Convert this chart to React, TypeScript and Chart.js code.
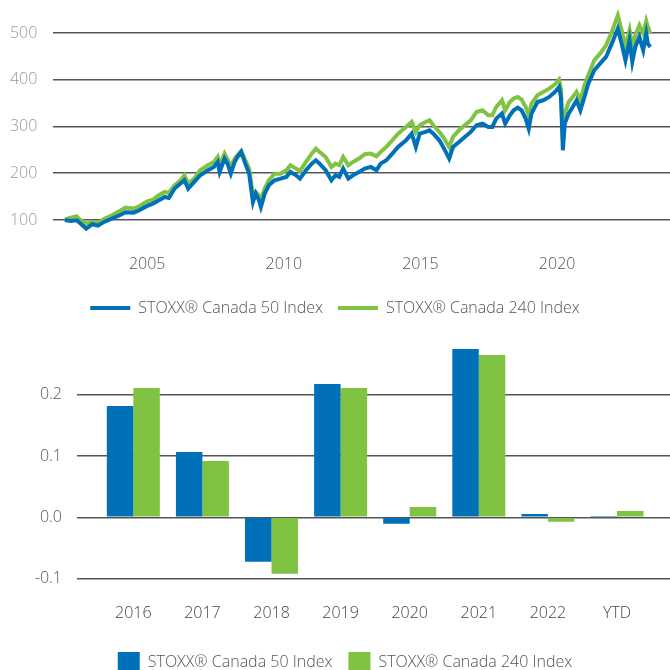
import React, { useEffect, useRef } from 'react';
import { Chart, registerables } from 'chart.js';

Chart.register(...registerables);

const seriesNames = ['STOXX® Canada 50 Index', 'STOXX® Canada 240 Index'];

// Top chart: index levels (decimal year -> value)
const lineDates = [
  2001.99, 2002.2, 2002.42, 2002.56, 2002.77, 2002.99, 2003.2, 2003.42, 2003.71, 2003.99,
  2004.21, 2004.5, 2004.71, 2005.0, 2005.21, 2005.43, 2005.64, 2005.79, 2006.0, 2006.22,
  2006.36, 2006.5, 2006.72, 2006.94, 2007.22, 2007.44, 2007.58, 2007.65, 2007.83, 2007.94,
  2008.06, 2008.2, 2008.3, 2008.44, 2008.59, 2008.73, 2008.87, 2008.97, 2009.09, 2009.16,
  2009.3, 2009.45, 2009.66, 2009.88, 2010.09, 2010.24, 2010.45, 2010.59, 2010.81, 2011.02,
  2011.17, 2011.31, 2011.53, 2011.74, 2011.89, 2012.03, 2012.17, 2012.36, 2012.53, 2012.75,
  2012.96, 2013.18, 2013.39, 2013.54, 2013.75, 2013.97, 2014.18, 2014.47, 2014.68, 2014.83,
  2014.97, 2015.19, 2015.33, 2015.47, 2015.69, 2015.83, 2016.05, 2016.19, 2016.41, 2016.62,
  2016.84, 2017.05, 2017.27, 2017.48, 2017.63, 2017.77, 2017.98, 2018.1, 2018.27, 2018.41,
  2018.56, 2018.7, 2018.85, 2018.96, 2019.06, 2019.28, 2019.49, 2019.71, 2019.92, 2020.07,
  2020.14, 2020.21, 2020.28, 2020.42, 2020.57, 2020.71, 2020.85, 2021.0, 2021.14, 2021.36,
  2021.57, 2021.79, 2022.0, 2022.22, 2022.36, 2022.5, 2022.65, 2022.75, 2022.86, 2023.01,
  2023.15, 2023.26, 2023.32, 2023.41,
];
const canada50Levels = [
  100.0, 97.9, 99.3, 92.2, 81.5, 90.8, 87.9, 95.8, 102.9, 110.0,
  116.4, 115.7, 120.7, 130.0, 135.0, 142.1, 149.2, 147.1, 167.1, 177.8,
  184.9, 167.1, 181.3, 195.6, 206.3, 213.4, 224.1, 202.7, 231.2, 220.5,
  199.1, 224.1, 234.8, 245.5, 220.5, 199.1, 138.5, 156.4, 142.1, 127.8,
  156.4, 174.2, 184.9, 188.4, 192.0, 202.7, 195.6, 188.4, 206.3, 220.5,
  227.7, 220.5, 206.3, 184.9, 195.6, 192.0, 209.8, 188.4, 195.6, 202.7,
  209.8, 213.4, 206.3, 220.5, 227.7, 241.9, 256.2, 270.4, 284.7, 256.2,
  284.7, 288.3, 291.8, 284.7, 270.4, 256.2, 231.2, 256.2, 266.9, 277.6,
  288.3, 302.5, 306.1, 299.0, 299.0, 316.8, 327.5, 306.1, 323.9, 334.6,
  340.3, 334.6, 316.8, 295.4, 327.5, 352.4, 356.0, 363.1, 373.8, 384.5,
  363.1, 249.1, 306.1, 327.5, 341.7, 356.0, 334.6, 363.1, 391.6, 420.2,
  434.4, 448.7, 477.2, 509.3, 477.2, 441.6, 484.3, 438.0, 470.1, 491.5,
  463.0, 498.6, 477.2, 470.1,
];
const canada240Levels = [
  101.4, 105.0, 107.9, 99.3, 92.2, 95.8, 94.3, 102.2, 110.0, 119.3,
  126.4, 124.3, 129.3, 140.0, 143.5, 152.8, 159.9, 157.8, 174.2, 184.9,
  195.6, 177.8, 188.4, 206.3, 217.0, 224.1, 234.8, 217.0, 241.9, 229.1,
  213.4, 231.2, 238.3, 247.6, 227.7, 209.8, 152.8, 159.9, 152.8, 142.1,
  167.1, 184.9, 199.1, 199.1, 206.3, 217.0, 209.8, 204.8, 224.1, 241.9,
  252.6, 245.5, 234.8, 213.4, 220.5, 217.0, 234.8, 217.0, 224.1, 231.2,
  240.5, 241.9, 236.2, 245.5, 256.2, 270.4, 284.7, 299.0, 309.7, 288.3,
  302.5, 309.7, 313.2, 302.5, 288.3, 277.6, 256.2, 277.6, 291.8, 302.5,
  313.2, 331.0, 334.6, 323.9, 323.9, 341.7, 356.0, 334.6, 352.4, 359.6,
  363.1, 357.4, 341.7, 323.9, 348.9, 366.7, 373.8, 380.9, 390.2, 400.2,
  380.9, 270.4, 327.5, 352.4, 363.1, 373.8, 356.0, 388.1, 409.5, 441.6,
  455.8, 473.6, 502.2, 537.8, 505.7, 470.1, 505.7, 470.1, 495.0, 516.4,
  498.6, 525.7, 512.9, 498.6,
];
const lineYTicks = [100, 200, 300, 400, 500];
const lineXTicks = [2005, 2010, 2015, 2020];

// Bottom chart: annual returns
const barCategories = ['2016', '2017', '2018', '2019', '2020', '2021', '2022', 'YTD'];
const canada50Returns = [0.1816, 0.1065, -0.0724, 0.2175, -0.0104, 0.2746, 0.0054, 0.0021];
const canada240Returns = [0.2109, 0.0918, -0.092, 0.2109, 0.0168, 0.2648, -0.0071, 0.0103];
const barYTicks = [-0.1, 0, 0.1, 0.2];

const BLUE = '#0070b8';
const GREEN = '#80c342';
const FONT = { family: '"Open Sans", "DejaVu Sans", sans-serif', size: 16, weight: 300 as any };
const GRID = '#555555';

export default function App() {
  const topRef = useRef<HTMLCanvasElement | null>(null);
  const botRef = useRef<HTMLCanvasElement | null>(null);

  useEffect(() => {
    const lineLegendLabels = (chart: any) =>
      Chart.defaults.plugins.legend.labels.generateLabels(chart).map((it: any) => ({
        ...it,
        lineWidth: 0,
      }));

    const top = new Chart(topRef.current as HTMLCanvasElement, {
      type: 'line',
      data: {
        datasets: [
          {
            label: seriesNames[0],
            data: lineDates.map((d, i) => ({ x: d, y: canada50Levels[i] })),
            borderColor: BLUE,
            backgroundColor: BLUE,
            borderWidth: 4,
            pointRadius: 0,
            tension: 0,
          },
          {
            label: seriesNames[1],
            data: lineDates.map((d, i) => ({ x: d, y: canada240Levels[i] })),
            borderColor: GREEN,
            backgroundColor: GREEN,
            borderWidth: 4,
            pointRadius: 0,
            tension: 0,
          },
        ],
      },
      options: {
        animation: false,
        responsive: false,
        maintainAspectRatio: false,
        layout: { padding: { top: 9.6, left: 0, right: 0, bottom: 0 } },
        plugins: {
          tooltip: { enabled: false },
          legend: {
            position: 'bottom',
            labels: {
              boxWidth: 40,
              boxHeight: 4,
              padding: 15,
              font: FONT,
              color: '#555',
              generateLabels: lineLegendLabels,
            },
          },
        },
        scales: {
          x: {
            type: 'linear',
            min: 2001.564,
            max: 2024.13,
            grid: { display: false, drawTicks: false },
            border: { display: false },
            ticks: { padding: 6.4, color: '#555', font: FONT, callback: (v: any) => String(v) },
            afterBuildTicks: (a: any) => {
              a.ticks = lineXTicks.map((v) => ({ value: v }));
            },
            afterFit: (a: any) => {
              a.height = 37;
            },
          },
          y: {
            type: 'linear',
            min: 40,
            max: 550,
            grid: { color: GRID, lineWidth: 1.5, drawTicks: true, tickLength: 16, tickColor: 'rgba(0,0,0,0)' },
            border: { display: false },
            ticks: { padding: 0, color: '#999', font: FONT, callback: (v: any) => String(v) },
            afterBuildTicks: (a: any) => {
              a.ticks = lineYTicks.map((v) => ({ value: v }));
            },
            afterFit: (a: any) => {
              a.width = 53.3;
            },
          },
        },
      },
    } as any);

    const bot = new Chart(botRef.current as HTMLCanvasElement, {
      type: 'bar',
      data: {
        datasets: [
          {
            label: seriesNames[0],
            data: barCategories.map((_, i) => ({ x: i, y: canada50Returns[i] })),
            backgroundColor: BLUE,
            borderWidth: 0,
            barPercentage: 1,
            categoryPercentage: 0.767,
          },
          {
            label: seriesNames[1],
            data: barCategories.map((_, i) => ({ x: i, y: canada240Returns[i] })),
            backgroundColor: GREEN,
            borderWidth: 0,
            barPercentage: 1,
            categoryPercentage: 0.767,
          },
        ],
      },
      options: {
        animation: false,
        responsive: false,
        maintainAspectRatio: false,
        layout: { padding: { top: 10.66, left: 20, right: 0, bottom: 0 } },
        plugins: {
          tooltip: { enabled: false },
          legend: {
            position: 'bottom',
            labels: { boxWidth: 22, boxHeight: 20, padding: 16, font: FONT, color: '#555' },
          },
        },
        scales: {
          x: {
            type: 'linear',
            min: -0.815,
            max: 7.767,
            offset: false,
            grid: { display: false, drawTicks: false, offset: false },
            border: { display: false },
            ticks: {
              padding: 6.7,
              color: '#444',
              font: FONT,
              callback: (v: any) => barCategories[v] ?? '',
            },
            afterBuildTicks: (a: any) => {
              a.ticks = barCategories.map((_, i) => ({ value: i }));
            },
            afterFit: (a: any) => {
              a.height = 39;
            },
          },
          y: {
            type: 'linear',
            min: -0.13,
            max: 0.28,
            grid: { color: GRID, lineWidth: 1.5, drawTicks: true, tickLength: 15, tickColor: 'rgba(0,0,0,0)' },
            border: { display: false },
            ticks: { padding: 0, color: '#555', font: FONT, callback: (v: any) => Number(v).toFixed(1) },
            afterBuildTicks: (a: any) => {
              a.ticks = barYTicks.map((v) => ({ value: v }));
            },
            afterFit: (a: any) => {
              a.width = 57;
            },
          },
        },
      },
    } as any);

    return () => {
      top.destroy();
      bot.destroy();
    };
  }, []);

  return (
    <div
      style={{
        position: 'absolute',
        left: 0,
        top: 0,
        width: 670,
        height: 670,
        overflow: 'hidden',
        background: '#fff',
      }}
    >
      <canvas ref={topRef} width={670} height={326} style={{ position: 'absolute', left: 0, top: 0 }} />
      <canvas ref={botRef} width={670} height={347} style={{ position: 'absolute', left: 0, top: 335 }} />
    </div>
  );
}
